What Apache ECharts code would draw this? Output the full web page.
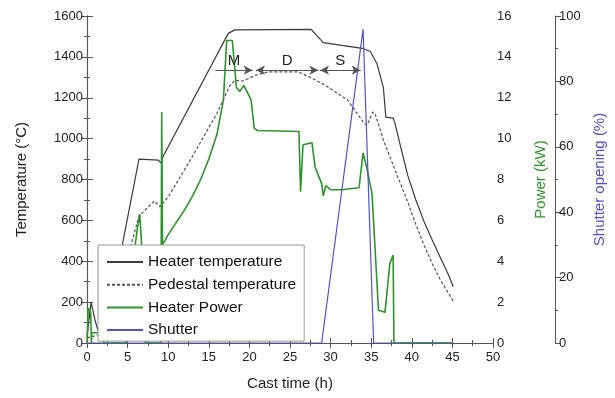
<!DOCTYPE html>
<html>
<head>
<meta charset="utf-8">
<script src="https://cdn.jsdelivr.net/npm/echarts@6/dist/echarts.min.js"></script>
<style>
	html, body { margin: 0; padding: 0; background: #fff; }
	#chart { width: 615px; height: 398px; }
</style>
</head>
<body>
<div id="chart"></div>
<script>
(function() {

	// cast time (h) vs value pairs
	var heaterTemp = [[0, 30], [0.5, 200], [1.0, 110], [1.4, 55], [2.3, 60], [6.4, 900], [8.8, 895], [9.1, 880], [9.4, 915],
		[17.4, 1515], [18.2, 1532], [27.6, 1535], [29.1, 1470], [33.9, 1442], [34.9, 1426], [35.7, 1368], [36.5, 1250],
		[36.8, 1105], [37.7, 1100], [37.9, 1080], [38.5, 980], [39.5, 820], [40.5, 700], [41.5, 595], [42.5, 505],
		[43.5, 420], [44.5, 335], [45.1, 275]];

	var pedestalTemp = [[0, 25], [1.4, 40], [2.5, 50], [5.0, 420], [6.4, 620], [8.3, 695], [9.0, 667], [10.0, 715],
		[12.8, 900], [16.0, 1124], [17.6, 1260], [18.2, 1285], [19.2, 1282], [20.8, 1311], [22.4, 1327], [26.0, 1327],
		[27.5, 1300], [29.3, 1262], [32.1, 1189], [34.1, 1076], [34.5, 1067], [35.2, 1130], [35.5, 1120], [36.5, 993],
		[37.7, 871], [38.0, 840], [38.5, 790], [39.5, 690], [40.5, 580], [41.5, 480], [42.5, 390], [43.5, 310],
		[44.5, 245], [45.1, 205]];

	var heaterPower = [[0, 0], [0.15, 1.7], [0.45, 1.5], [0.55, 0], [0.6, 0.5], [2.0, 0.5], [2.05, 0], [4.8, 0],
		[5.6, 3.8], [6.2, 5.6], [6.5, 6.3], [6.7, 5.0], [7.2, 0], [9.1, 0], [9.2, 11.3], [9.3, 4.8], [10, 5.3],
		[11, 5.9], [12, 6.5], [13, 7.2], [14, 8.0], [15, 9.0], [16, 10.2], [16.8, 11.9], [17.2, 14.8], [17.9, 14.8],
		[18.4, 12.5], [18.8, 12.3], [19.3, 12.6], [19.7, 12.3], [20.2, 11.9], [20.6, 10.5], [21, 10.4], [26.1, 10.35],
		[26.3, 7.4], [26.6, 9.7], [27.7, 9.8], [28.1, 8.6], [28.9, 7.8], [29.1, 7.2], [29.4, 7.7], [30.0, 7.5],
		[31.3, 7.5], [33.5, 7.6], [34.0, 9.3], [34.5, 8.5], [35.1, 7.3], [35.9, 1.6], [36.7, 1.5], [37.3, 3.9],
		[37.7, 4.3], [37.8, 0], [45.1, 0]];

	var shutter = [[0, 0], [28.9, 0], [34.0, 96], [35.3, 0], [45.1, 0]];

	// stage markers M / D / S (h) on the 1335 °C line
	var stageNames = ["M", "D", "S"];
	var stageBounds = [[15.8, 20.4], [20.8, 28.5], [28.7, 33.7]];
	var stageLevel = 1335;

	var FONT = "Liberation Sans, Arial, sans-serif";
	var GREEN = "#2f922f";
	var BLUE = "#5252cc";

	var stageLines = stageBounds.map(function(b, i) {
		return [{
			coord: [b[0], stageLevel],
			symbol: i === 0 ? "none" : "arrow",
			name: stageNames[i]
		}, {
			coord: [b[1], stageLevel],
			symbol: "arrow"
		}];
	});

	function plain(v) {
		return String(v);
	}

	var valueAxisBase = {
		type: "value",
		axisLine: { show: true, lineStyle: { color: "#555", width: 1 } },
		axisTick: { show: true, length: 6, lineStyle: { color: "#555" } },
		minorTick: { show: true, splitNumber: 2, length: 3, lineStyle: { color: "#555" } },
		splitLine: { show: false },
		axisLabel: { color: "#222", fontSize: 13, fontFamily: FONT, margin: 4, formatter: plain },
		nameLocation: "middle",
		nameRotate: 90,
		nameTextStyle: { fontSize: 15, fontFamily: FONT, color: "#222" }
	};

	var option = {
		animation: false,
		backgroundColor: "#fff",
		grid: { left: 87, right: 113, top: 16, bottom: 55 },
		legend: {
			orient: "vertical",
			left: 98,
			top: 245,
			itemWidth: 36,
			itemHeight: 14,
			itemGap: 6.7,
			padding: [9, 8, 3, 8],
			backgroundColor: "#fff",
			borderColor: "#999",
			borderWidth: 1,
			itemStyle: { opacity: 0 },
			textStyle: { fontSize: 15.5, fontFamily: FONT, color: "#111" },
			data: ["Heater temperature", "Pedestal temperature", "Heater Power", "Shutter"]
		},
		xAxis: [Object.assign({}, valueAxisBase, {
			min: 0, max: 50, interval: 5,
			position: "bottom",
			axisTick: { show: true, inside: true, length: 5, lineStyle: { color: "#555" } },
			minorTick: { show: true, splitNumber: 2, length: 3, lineStyle: { color: "#555" } },
			axisLabel: { color: "#222", fontSize: 13, fontFamily: FONT, margin: 8, formatter: plain },
			name: "Cast time (h)",
			nameRotate: 0,
			nameGap: 33
		}), {
			type: "value",
			min: 0, max: 50, interval: 5,
			position: "top",
			axisLine: { show: true, lineStyle: { color: "#555" } },
			axisTick: { show: true, inside: true, length: 5, lineStyle: { color: "#555" } },
			minorTick: { show: true, splitNumber: 2, length: 3, lineStyle: { color: "#555" } },
			axisLabel: { show: false },
			splitLine: { show: false }
		}],
		yAxis: [Object.assign({}, valueAxisBase, {
			min: 0, max: 1600, interval: 200,
			position: "left",
			axisLine: { show: true, lineStyle: { color: GREEN, width: 1.2 } },
			name: "Temperature (°C)",
			nameGap: 58
		}), Object.assign({}, valueAxisBase, {
			min: 0, max: 16, interval: 2,
			position: "right",
			name: "Power (kW)",
			nameGap: 40,
			nameTextStyle: { fontSize: 15, fontFamily: FONT, color: GREEN }
		}), Object.assign({}, valueAxisBase, {
			min: 0, max: 100, interval: 20,
			position: "right",
			offset: 62,
			name: "Shutter opening (%)",
			nameGap: 37,
			nameTextStyle: { fontSize: 15, fontFamily: FONT, color: BLUE }
		})],
		series: [{
			name: "Heater temperature",
			type: "line",
			data: heaterTemp,
			yAxisIndex: 0,
			symbol: "none",
			lineStyle: { color: "#3a3a3a", width: 1.2 },
			itemStyle: { color: "#3a3a3a" },
			markLine: {
				silent: true,
				symbolSize: [7, 9],
				lineStyle: { color: "#555", width: 1.2, type: "solid" },
				label: {
					show: true,
					position: "middle",
					distance: 2,
					formatter: "{b}",
					fontSize: 15,
					fontFamily: FONT,
					color: "#222"
				},
				data: stageLines
			}
		}, {
			name: "Pedestal temperature",
			type: "line",
			data: pedestalTemp,
			yAxisIndex: 0,
			symbol: "none",
			lineStyle: { color: "#555", width: 1.2, type: [3, 2] },
			itemStyle: { color: "#555" }
		}, {
			name: "Heater Power",
			type: "line",
			data: heaterPower,
			yAxisIndex: 1,
			symbol: "none",
			lineStyle: { color: GREEN, width: 1.6 },
			itemStyle: { color: GREEN }
		}, {
			name: "Shutter",
			type: "line",
			data: shutter,
			yAxisIndex: 2,
			symbol: "none",
			lineStyle: { color: BLUE, width: 1.2 },
			itemStyle: { color: BLUE }
		}]
	};

	var chart = echarts.init(document.getElementById("chart"));
	chart.setOption(option);

})();
</script>
</body>
</html>
